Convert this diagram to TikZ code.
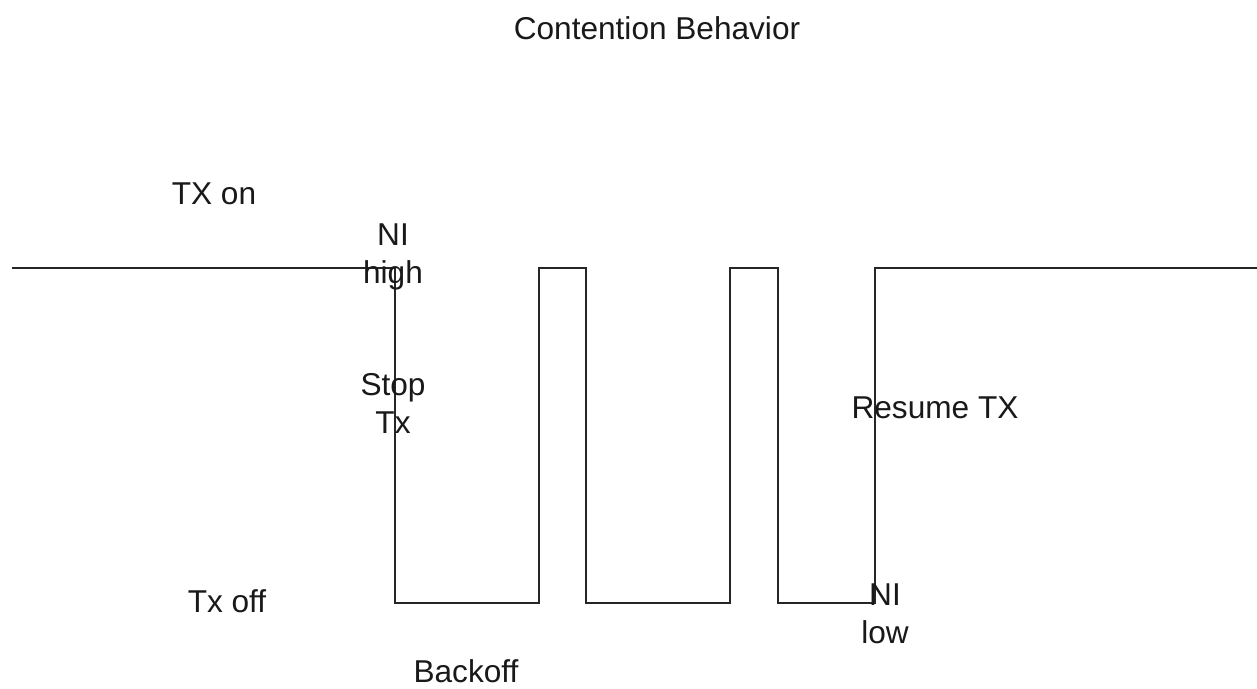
\documentclass[tikz,border=0pt]{standalone}
\usepackage{fontspec}
\setmainfont{Liberation Sans}
\begin{document}
\begin{tikzpicture}[x=1pt,y=-1pt,
  wave/.style={line width=1.9pt, draw=black!85, line join=miter},
  lbl/.style={font=\fontsize{31.6}{38}\selectfont, text=black!90, inner sep=0pt, align=center, anchor=base}]
\useasboundingbox[fill=white] (0,0) rectangle (1257,688);
\coordinate (s) at (12,268);
\coordinate (a1) at (395,268);
\coordinate (a2) at (395,603);
\coordinate (b1) at (539,603);
\coordinate (b2) at (539,268);
\coordinate (c1) at (586,268);
\coordinate (c2) at (586,603);
\coordinate (d1) at (730,603);
\coordinate (d2) at (730,268);
\coordinate (e1) at (778,268);
\coordinate (e2) at (778,603);
\coordinate (f1) at (875,603);
\coordinate (f2) at (875,268);
\coordinate (g) at (1257,268);
\draw[wave] (s) -- (a1) -- (a2) -- (b1) -- (b2) -- (c1) -- (c2) -- (d1) -- (d2) -- (e1) -- (e2) -- (f1) -- (f2) -- (g);
\node[lbl] (title) at (657,39) {Contention Behavior};
\node[lbl] (txon) at (214,204) {TX on};
\node[lbl] (nihigh) at (393,283) {NI\\high};
\node[lbl] (stoptx) at (393,433) {Stop\\Tx};
\node[lbl] (resume) at (935,418) {Resume TX};
\node[lbl] (nilow) at (885,643) {NI\\low};
\node[lbl] (txoff) at (227,612) {Tx off};
\node[lbl] (backoff) at (466,682) {Backoff};
\end{tikzpicture}
\end{document}
